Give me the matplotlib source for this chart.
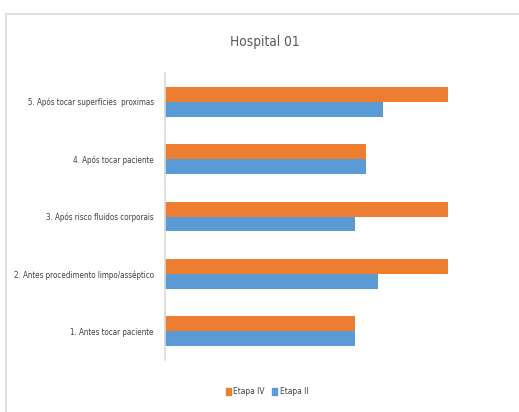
import matplotlib
matplotlib.use("Agg")
import matplotlib.pyplot as plt
from matplotlib.patches import Rectangle, Patch
from matplotlib.font_manager import FontProperties
import numpy as np

categories = ["1. Antes tocar paciente",
              "2. Antes procedimento limpo/asséptico",
              "3. Após risco fluidos corporais",
              "4. Após tocar paciente",
              "5. Após tocar superfícies  proximas"]
etapa_iv = [67, 100, 100, 71, 100]
etapa_ii = [67, 75, 67, 71, 77]

orange = "#ED7D31"
blue = "#5B9BD5"

fig = plt.figure(figsize=(5.19, 4.12), dpi=100)
fig.patches.append(Rectangle((5.5/519, 0 - 0.05), 1.2, (412 - 13.5)/412 + 0.05,
                             transform=fig.transFigure, fill=False,
                             edgecolor="#D9D9D9", linewidth=1.2, zorder=0))

ax = fig.add_axes([165/519, (412-360)/412, 340/519, 287/412])
y = np.arange(len(categories))
h = 0.26
ax.barh(y + h/2, etapa_iv, height=h, color=orange, label="Etapa IV")
ax.barh(y - h/2, etapa_ii, height=h, color=blue, label="Etapa II")
ax.set_xlim(0, 120)
ax.set_ylim(-0.5, 4.5)
ax.set_yticks(y)
ax.set_yticklabels(categories, fontsize=5.8, color="#404040",
                   family="DejaVu Sans", stretch="condensed")
ax.tick_params(axis="y", length=0, pad=8)
ax.set_xticks([])
for s in ["top", "right", "bottom"]:
    ax.spines[s].set_visible(False)
ax.spines["left"].set_color("#D9D9D9")
ax.spines["left"].set_linewidth(1.2)

fig.text(265/519, 1 - 42/412, "Hospital 01", ha="center", va="center",
         fontsize=9.8, color="#595959", family="DejaVu Sans", stretch="condensed")

handles = [Patch(color=orange, label="Etapa IV"), Patch(color=blue, label="Etapa II")]
fig.legend(handles=handles, loc="center", bbox_to_anchor=(267/519, 1 - 392/412),
           ncol=2, frameon=False, handlelength=0.6, handleheight=1.0,
           handletextpad=0.3, columnspacing=0.9,
           prop=FontProperties(family="DejaVu Sans", stretch="condensed", size=6.0),
           labelcolor="#404040")

fig.savefig("out.png", dpi=100)
